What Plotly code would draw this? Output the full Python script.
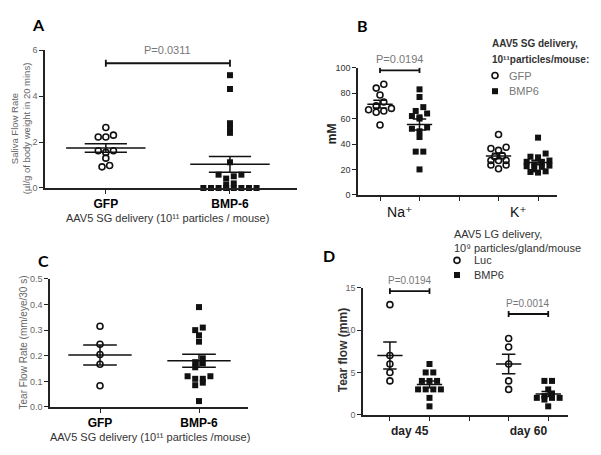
import numpy as np
import plotly.graph_objects as go

# reference canvas (pixels) and the page's default 8px body margin
W, H = 601, 455
OFF = 8
FW, FH = W - OFF, H - OFF

# ---------------- data ----------------
# Panel A: saliva flow rate
a_categories = ["GFP", "BMP-6"]
a_gfp = [2.63, 2.30, 2.22, 2.22, 1.62, 1.55, 1.62, 1.30, 0.92, 0.98]
a_bmp6 = [4.91, 4.31, 2.82, 2.61, 2.40, 1.12, 0.58, 0.51, 0.58, 0.41, 0.20, 0.14,
          0, 0, 0, 0, 0, 0, 0, 0]
a_pvalue = "P=0.0311"

# Panel B: saliva electrolytes (mM)
b_ions = ["Na⁺", "K⁺"]
b_legend = ["GFP", "BMP6"]
b_gfp_na = [87, 84, 78.5, 73, 70, 68, 66, 65, 67, 55]
b_bmp6_na = [83, 77, 69, 66, 64, 62, 61, 60, 53, 52, 50, 45.5, 34, 34, 20]
b_gfp_k = [47.5, 37.5, 36.5, 35, 31, 30, 27, 27, 27, 23.5, 23.5, 20.5]
b_bmp6_k = [45, 32.5, 30, 29.5, 27, 26, 26, 24, 23, 22.5, 22, 20, 18.5, 18, 17.5]
b_pvalue = "P=0.0194"

# Panel C: tear flow rate
c_categories = ["GFP", "BMP-6"]
c_gfp = [0.315, 0.245, 0.205, 0.167, 0.083]
c_bmp6 = [0.39, 0.31, 0.30, 0.28, 0.255, 0.19, 0.175, 0.17, 0.155, 0.12, 0.12,
          0.11, 0.11, 0.095, 0.085, 0.023]

# Panel D: tear flow (mm)
d_days = ["day 45", "day 60"]
d_legend = ["Luc", "BMP6"]
d_luc_45 = [13, 7, 6, 5, 4]
d_bmp6_45 = [6, 5, 5, 4, 4, 4, 3, 3, 3, 3, 2, 1]
d_luc_60 = [9, 8, 6, 4, 3]
d_bmp6_60 = [4, 4, 3, 2.5, 2.2, 2, 2, 2, 1.8, 1]
d_pvalues = ["P=0.0194", "P=0.0014"]

# ---------------- helpers ----------------
INK = "#111111"
FONT = "Liberation Sans, DejaVu Sans, Arial, sans-serif"


def xdom(x0, x1):
    return [(x0 - OFF) / FW, (x1 - OFF) / FW]


def ydom(ytop, ybot):
    return [1 - (ybot - OFF) / FH, 1 - (ytop - OFF) / FH]


def px_per_unit(domain, rng, total):
    return (domain[1] - domain[0]) * total / (rng[1] - rng[0])


def swarm(values, center, xppu, yppu, step=7.6, tol=4.2):
    """Column-scatter layout: rows of nearby values, each row centred."""
    vals = np.asarray(values, dtype=float)
    order = list(np.argsort(-vals, kind="stable"))
    xs = [0.0] * len(vals)
    rows, cur = [], []
    for i in order:
        if cur and (vals[cur[0]] - vals[i]) * yppu > tol:
            rows.append(cur)
            cur = []
        cur.append(i)
    if cur:
        rows.append(cur)
    for row in rows:
        n = len(row)
        arranged = sorted(row, key=lambda k: vals[k])
        slots = sorted(range(n), key=lambda s: abs(s - (n - 1) / 2))
        for k, s in zip(arranged, slots):
            xs[k] = center + (s - (n - 1) / 2) * step / xppu
    return xs


def summary_xy(values, center, mw=0.32, sw=0.17):
    v = np.asarray(values, dtype=float)
    m = v.mean()
    s = v.std(ddof=1) / np.sqrt(len(v))
    x = [center - mw, center + mw, None,
         center - sw, center + sw, None,
         center - sw, center + sw, None,
         center, center]
    y = [m, m, None, m + s, m + s, None, m - s, m - s, None, m - s, m + s]
    return x, y


def bracket_xy(x0, x1, h, d):
    return [x0, x0, None, x0, x1, None, x1, x1], [h - d, h + d, None, h, h, None, h - d, h + d]


fig = go.Figure()

panels = {
    "A": dict(xa="x", ya="y", xd=xdom(45, 297), yd=ydom(46, 187),
              xr=[-0.49, 1.54], yr=[0, 6]),
    "B": dict(xa="x2", ya="y2", xd=xdom(358, 557), yd=ydom(64, 194),
              xr=[-0.557, 4.48], yr=[0, 100]),
    "C": dict(xa="x3", ya="y3", xd=xdom(50, 248), yd=ydom(280, 411),
              xr=[-0.505, 1.495], yr=[0, 0.5]),
    "D": dict(xa="x4", ya="y4", xd=xdom(363, 568), yd=ydom(289, 419),
              xr=[-0.68, 4.5], yr=[0, 15]),
}
for p in panels.values():
    p["xppu"] = px_per_unit(p["xd"], p["xr"], FW)
    p["yppu"] = px_per_unit(p["yd"], p["yr"], FH)

circle = dict(symbol="circle-open", size=6, color=INK, line=dict(width=1.6, color=INK))
square = dict(symbol="square", size=6, color=INK, line=dict(width=0))


def add_group(panel, values, center, marker, name=""):
    p = panels[panel]
    xs = swarm(values, center, p["xppu"], p["yppu"])
    fig.add_trace(go.Scatter(x=xs, y=values, mode="markers", marker=marker,
                             xaxis=p["xa"], yaxis=p["ya"], name=name,
                             showlegend=False, cliponaxis=False, hoverinfo="y"))
    sx, sy = summary_xy(values, center)
    fig.add_trace(go.Scatter(x=sx, y=sy, mode="lines", line=dict(color=INK, width=1.5),
                             xaxis=p["xa"], yaxis=p["ya"], showlegend=False,
                             hoverinfo="skip", cliponaxis=False))


def add_bracket(panel, x0, x1, h, d, text, size, shift):
    p = panels[panel]
    bx, by = bracket_xy(x0, x1, h, d)
    fig.add_trace(go.Scatter(x=bx, y=by, mode="lines", line=dict(color=INK, width=1.8),
                             xaxis=p["xa"], yaxis=p["ya"], showlegend=False,
                             hoverinfo="skip", cliponaxis=False))
    fig.add_annotation(x=(x0 + x1) / 2, y=h, xref=p["xa"], yref=p["ya"], text=text,
                       showarrow=False, yanchor="bottom", yshift=shift,
                       font=dict(family=FONT, size=size, color="#777777"))


# Panel A
add_group("A", a_gfp, 0, circle, "GFP")
add_group("A", a_bmp6, 1, square, "BMP-6")
add_bracket("A", 0, 1, 5.43, 0.15, a_pvalue, 11, 5)

# Panel B
add_group("B", b_gfp_na, 0, circle, "GFP Na")
add_group("B", b_bmp6_na, 1, square, "BMP6 Na")
add_group("B", b_gfp_k, 3, circle, "GFP K")
add_group("B", b_bmp6_k, 4, square, "BMP6 K")
add_bracket("B", 0, 1, 98, 2.2, b_pvalue, 11, 3)

# Panel C
add_group("C", c_gfp, 0, circle, "GFP")
add_group("C", c_bmp6, 1, square, "BMP-6")

# Panel D
add_group("D", d_luc_45, 0, circle, "Luc d45")
add_group("D", d_bmp6_45, 1, square, "BMP6 d45")
add_group("D", d_luc_60, 3, circle, "Luc d60")
add_group("D", d_bmp6_60, 4, square, "BMP6 d60")
add_bracket("D", 0, 1, 14.6, 0.35, d_pvalues[0], 10, 3)
add_bracket("D", 3, 4, 11.9, 0.35, d_pvalues[1], 10, 3)

# legend keys on a full-page overlay axis (pixel units of the reference)
fig.add_trace(go.Scatter(x=[495, 457], y=[72, 261], mode="markers", marker=circle,
                         xaxis="x5", yaxis="y5", showlegend=False, hoverinfo="skip"))
fig.add_trace(go.Scatter(x=[495, 457], y=[88, 276], mode="markers", marker=square,
                         xaxis="x5", yaxis="y5", showlegend=False, hoverinfo="skip"))


# ---------------- axes ----------------
def axis_common():
    return dict(showline=True, linecolor="#222222", linewidth=1.5, showgrid=False,
                zeroline=False, ticks="outside", ticklen=4, tickwidth=1.2,
                tickcolor="#222222", fixedrange=True)


minor_ticks = dict(tickvals=[0, 1, 2, 3, 4], ticks="outside", ticklen=4,
                   tickwidth=1.2, tickcolor="#222222")

fig.update_layout(
    xaxis=dict(axis_common(), domain=panels["A"]["xd"], range=panels["A"]["xr"],
               anchor="y", tickvals=[0, 1], ticktext=a_categories,
               tickfont=dict(family=FONT, size=12, color="#000", weight="bold")),
    yaxis=dict(axis_common(), domain=panels["A"]["yd"], range=panels["A"]["yr"],
               anchor="x", tickvals=[0, 2, 4, 6],
               tickfont=dict(family=FONT, size=9, color="#666666")),
    xaxis2=dict(axis_common(), domain=panels["B"]["xd"], range=panels["B"]["xr"],
                anchor="y2", tickvals=[0.5, 3.5], ticktext=b_ions, ticklen=0,
                ticklabelstandoff=4, minor=minor_ticks,
                tickfont=dict(family=FONT, size=14, color="#111")),
    yaxis2=dict(axis_common(), domain=panels["B"]["yd"], range=panels["B"]["yr"],
                anchor="x2", tickvals=[0, 20, 40, 60, 80, 100],
                tickfont=dict(family=FONT, size=9, color="#333333")),
    xaxis3=dict(axis_common(), domain=panels["C"]["xd"], range=panels["C"]["xr"],
                anchor="y3", tickvals=[0, 1], ticktext=c_categories,
                tickfont=dict(family=FONT, size=12, color="#000", weight="bold")),
    yaxis3=dict(axis_common(), domain=panels["C"]["yd"], range=panels["C"]["yr"],
                anchor="x3", tickvals=[0, 0.1, 0.2, 0.3, 0.4, 0.5], tickformat=".1f",
                tickfont=dict(family=FONT, size=9, color="#666666")),
    xaxis4=dict(axis_common(), domain=panels["D"]["xd"], range=panels["D"]["xr"],
                anchor="y4", tickvals=[0.5, 3.5], ticktext=d_days, ticklen=0,
                ticklabelstandoff=4, minor=minor_ticks,
                tickfont=dict(family=FONT, size=12, color="#222", weight="bold")),
    yaxis4=dict(axis_common(), domain=panels["D"]["yd"], range=panels["D"]["yr"],
                anchor="x4", tickvals=[0, 5, 10, 15],
                tickfont=dict(family=FONT, size=9, color="#666666")),
    xaxis5=dict(domain=[0, 1], range=[OFF, W], visible=False, fixedrange=True,
                anchor="y5"),
    yaxis5=dict(domain=[0, 1], range=[H, OFF], visible=False, fixedrange=True,
                anchor="x5"),
)


# ---------------- text annotations ----------------
def note(text, x, y, size=11, color="#333333", weight="normal", angle=0,
         xanchor="center", yanchor="middle", family=FONT):
    fig.add_annotation(text=text, x=(x - OFF) / FW, y=1 - (y - OFF) / FH,
                       xref="paper", yref="paper", showarrow=False,
                       xanchor=xanchor, yanchor=yanchor, textangle=angle,
                       font=dict(family=family, size=size, color=color, weight=weight))


LETTER = "Lato, Open Sans, sans-serif"
note("A", 38, OFF, size=16, color="#000", weight="bold", family=LETTER, yanchor="top")
note("B", 362, 21, size=16, color="#000", weight="bold", family=LETTER)
note("C", 43, 261, size=16, color="#000", weight="bold", family=LETTER)
note("D", 329, 256, size=16, color="#000", weight="bold", family=LETTER)

note("Saliva Flow Rate<br>(µl/g of body weight in 20 mins)", 20, 126, size=9.5,
     color="#666666", angle=-90)
note("AAV5 SG delivery (10¹¹ particles / mouse)", 167, 218, size=11)
note("mM", 332, 132, size=12, color="#222222", weight="bold", angle=-90)
note("AAV5 SG delivery,", 490, 39, size=10, weight="bold", xanchor="left")
note("10¹¹particles/mouse:", 490, 56, size=10, weight="bold", xanchor="left")
note(b_legend[0], 507, 72, size=11, color="#777777", xanchor="left")
note(b_legend[1], 507, 88, size=11, color="#777777", xanchor="left")
note("Tear Flow Rate (mm/eye/30 s)", 23, 345, size=10, color="#666666", angle=-90)
note("AAV5 SG delivery (10¹¹ particles /mouse)", 150, 442, size=11)
note("Tear flow (mm)", 343, 353, size=12, weight="bold", angle=-90)
note("AAV5 LG delivery,", 452, 234, size=11, xanchor="left")
note("10⁹ particles/gland/mouse", 452, 248, size=11, xanchor="left")
note(d_legend[0], 472, 261, size=11, xanchor="left")
note(d_legend[1], 472, 276, size=11, xanchor="left")

fig.update_layout(
    width=FW, height=FH, autosize=False,
    margin=dict(l=0, r=0, t=0, b=0),
    paper_bgcolor="white", plot_bgcolor="rgba(0,0,0,0)",
    showlegend=False,
)

fig.write_html("out.html")
